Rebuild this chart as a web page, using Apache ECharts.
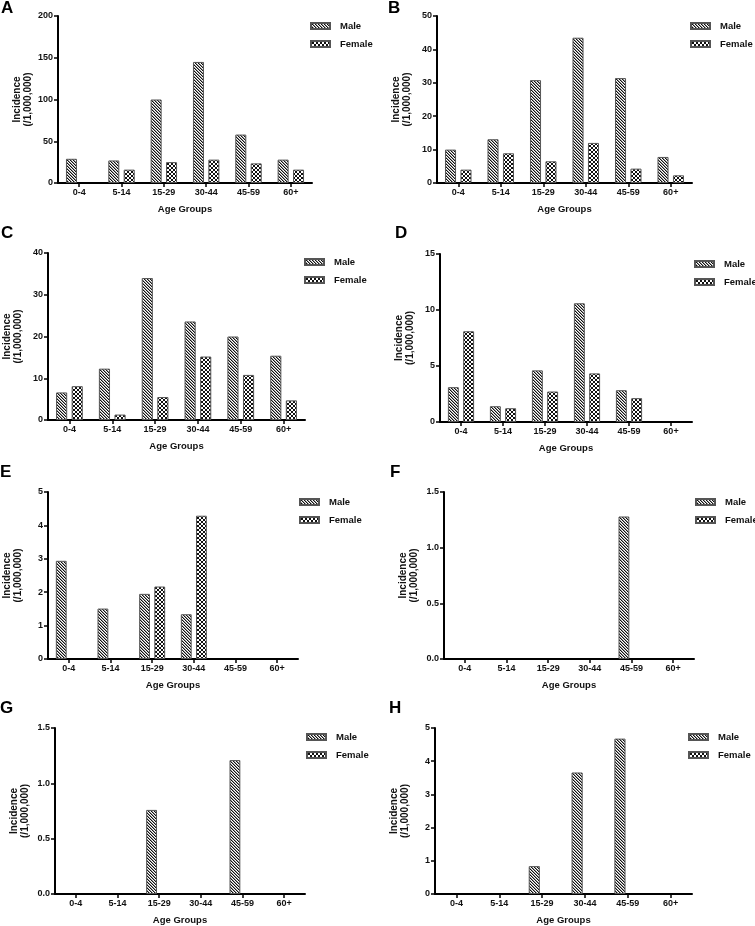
<!DOCTYPE html>
<html>
<head>
<meta charset="utf-8">
<script src="https://cdn.jsdelivr.net/npm/echarts@6/dist/echarts.min.js"></script>
<style>
html,body{margin:0;padding:0;background:#fff;}
#chart{width:755px;height:926px;}
</style>
</head>
<body>
<div id="chart"></div>
<script>
// ---- data ----
const categories = ['0-4', '5-14', '15-29', '30-44', '45-59', '60+'];
const seriesNames = ['Male', 'Female'];
const panelLabels = ['A', 'B', 'C', 'D', 'E', 'F', 'G', 'H'];

const maleA = [29, 27, 100, 145, 58, 28];
const femaleA = [0, 16, 25, 28, 23.5, 16];
const maleB = [10, 13.1, 30.8, 43.5, 31.4, 7.8];
const femaleB = [4, 8.9, 6.5, 12, 4.3, 2.3];
const maleC = [6.6, 12.3, 34, 23.6, 20, 15.4];
const femaleC = [8.1, 1.3, 5.5, 15.2, 10.8, 4.7];
const maleD = [3.11, 1.41, 4.61, 10.6, 2.84, 0];
const femaleD = [8.1, 1.23, 2.72, 4.34, 2.13, 0];
const maleE = [2.94, 1.51, 1.95, 1.34, 0, 0];
const femaleE = [0, 0, 2.17, 4.29, 0, 0];
const maleF = [0, 0, 0, 0, 1.28, 0];
const femaleF = [0, 0, 0, 0, 0, 0];
const maleG = [0, 0, 0.76, 0, 1.21, 0];
const femaleG = [0, 0, 0, 0, 0, 0];
const maleH = [0, 0, 0.84, 3.66, 4.68, 0];
const femaleH = [0, 0, 0, 0, 0, 0];

const yTicksA = [0, 50, 100, 150, 200];
const yTicksB = [0, 10, 20, 30, 40, 50];
const yTicksC = [0, 10, 20, 30, 40];
const yTicksD = [0, 5, 10, 15];
const yTicksE = [0, 1, 2, 3, 4, 5];
const yTicksF = ['0.0', '0.5', '1.0', '1.5'];
const yTicksG = ['0.0', '0.5', '1.0', '1.5'];
const yTicksH = [0, 1, 2, 3, 4, 5];

const xTitle = 'Age Groups';
const yTitle = 'Incidence\n(/1,000,000)';

const maleSets = [maleA, maleB, maleC, maleD, maleE, maleF, maleG, maleH];
const femaleSets = [femaleA, femaleB, femaleC, femaleD, femaleE, femaleF, femaleG, femaleH];
const tickSets = [yTicksA, yTicksB, yTicksC, yTicksD, yTicksE, yTicksF, yTicksG, yTicksH];

// ---- layout (positions / styles) ----
const layout = [
  {grid: {left: 58, top: 16, width: 254, height: 167}, legend: {left: 310, top: 20}, letter: {left: 1, top: 0}},
  {grid: {left: 437, top: 16, width: 255, height: 167}, legend: {left: 690, top: 20}, letter: {left: 388, top: 0}},
  {grid: {left: 48, top: 253, width: 257, height: 167}, legend: {left: 304, top: 256}, letter: {left: 1, top: 225}},
  {grid: {left: 440, top: 254, width: 252, height: 168}, legend: {left: 694, top: 258}, letter: {left: 395, top: 225}},
  {grid: {left: 48, top: 492, width: 250, height: 167}, legend: {left: 299, top: 496}, letter: {left: 0, top: 464}},
  {grid: {left: 444, top: 492, width: 250, height: 167}, legend: {left: 695, top: 496}, letter: {left: 390, top: 464}},
  {grid: {left: 55, top: 728, width: 250, height: 167}, legend: {left: 306, top: 731}, letter: {left: 0, top: 700}},
  {grid: {left: 435, top: 728, width: 257, height: 168}, legend: {left: 688, top: 731}, letter: {left: 389, top: 700}}
];

const FONT = '"Liberation Sans", Arial, sans-serif';

function makePattern(size, cells) {
  const c = document.createElement('canvas');
  c.width = size; c.height = size;
  const ctx = c.getContext('2d');
  ctx.fillStyle = '#ffffff';
  ctx.fillRect(0, 0, size, size);
  cells.forEach(function (p) {
    ctx.fillStyle = p[2];
    ctx.fillRect(p[0], p[1], 1, 1);
  });
  return {image: c, repeat: 'repeat'};
}
const malePattern = makePattern(3, [
  [0, 0, '#111'], [1, 1, '#111'], [2, 2, '#111'],
  [1, 0, '#999'], [2, 1, '#999'], [0, 2, '#999']
]);
const femalePattern = makePattern(4, [
  [0, 0, '#111'], [1, 1, '#111'], [2, 2, '#111'], [3, 3, '#111'],
  [0, 3, '#111'], [1, 2, '#111'], [2, 1, '#111'], [3, 0, '#111']
]);
const patterns = [malePattern, femalePattern];

const option = {
  backgroundColor: '#ffffff',
  animation: false,
  title: [], grid: [], xAxis: [], yAxis: [], legend: [], series: []
};

layout.forEach(function (L, i) {
  const ticks = tickSets[i];
  const yMin = Number(ticks[0]);
  const yMax = Number(ticks[ticks.length - 1]);
  const step = Number(ticks[1]) - Number(ticks[0]);
  const decimals = String(ticks[1]).indexOf('.') >= 0 ? 1 : 0;

  option.title.push({
    text: panelLabels[i], left: L.letter.left, top: L.letter.top, padding: 0,
    textStyle: {fontFamily: FONT, fontSize: 17, fontWeight: 'bold', color: '#000'}
  });
  option.grid.push(Object.assign({containLabel: false}, L.grid));
  option.xAxis.push({
    type: 'category', gridIndex: i, data: categories,
    name: xTitle, nameLocation: 'middle', nameGap: 21,
    nameTextStyle: {fontFamily: FONT, fontSize: 9.5, fontWeight: 'bold', color: '#111'},
    axisLine: {lineStyle: {color: '#000', width: 2}},
    axisTick: {show: true, alignWithLabel: true, length: 4, lineStyle: {color: '#000', width: 1.5}},
    axisLabel: {fontFamily: FONT, fontSize: 9, fontWeight: 'bold', color: '#111', margin: 5},
    splitLine: {show: false}
  });
  option.yAxis.push({
    type: 'value', gridIndex: i, min: yMin, max: yMax, interval: step,
    name: yTitle, nameLocation: 'middle', nameGap: 24, nameRotate: 90,
    nameTextStyle: {fontFamily: FONT, fontSize: 10, fontWeight: 'bold', color: '#111', lineHeight: 11},
    axisLine: {show: true, lineStyle: {color: '#000', width: 2}},
    axisTick: {show: true, length: 4, lineStyle: {color: '#000', width: 1.5}},
    axisLabel: {fontFamily: FONT, fontSize: 9, fontWeight: 'bold', color: '#111', margin: 5,
      formatter: function (v) { return v.toFixed(decimals); }},
    splitLine: {show: false}
  });
  option.legend.push({
    left: L.legend.left, top: L.legend.top + 1, orient: 'vertical', padding: 0,
    itemWidth: 19, itemHeight: 6, itemGap: 8, selectedMode: false,
    data: seriesNames.map(function (n) { return {name: n, icon: 'rect'}; }),
    textStyle: {fontFamily: FONT, fontSize: 9.5, fontWeight: 'bold', color: '#111', padding: [0, 0, 0, 5]}
  });
  [maleSets[i], femaleSets[i]].forEach(function (vals, s) {
    option.series.push({
      type: 'bar', name: seriesNames[s], xAxisIndex: i, yAxisIndex: i,
      data: vals.map(function (v) { return v === 0 ? '-' : v; }),
      barWidth: '26%', barGap: '40%',
      itemStyle: {color: patterns[s], borderColor: '#555', borderWidth: 1},
      emphasis: {disabled: true}
    });
  });
});

const chart = echarts.init(document.getElementById('chart'), null, {renderer: 'canvas'});
chart.setOption(option);
</script>
</body>
</html>
